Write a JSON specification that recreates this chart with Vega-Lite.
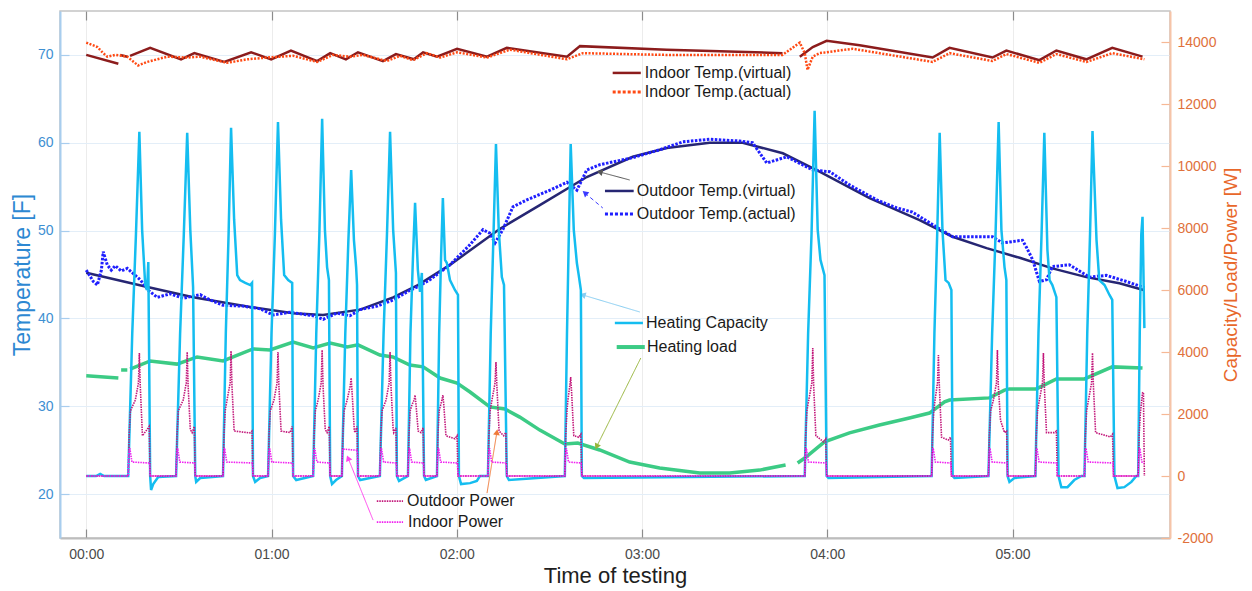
{
"$schema": "https://vega.github.io/schema/vega-lite/v6.json",
"width": 1110, "height": 527,
"autosize": {"type": "none"},
"padding": {"left": 60, "top": 11, "right": 82, "bottom": 53},
"background": "white",
"config": {
  "view": {"stroke": "#c4c4c4", "strokeWidth": 1.5}
},
"datasets": {
"ivirt": [{"seg":1,"t":0,"v":70.0},{"seg":1,"t":10.4,"v":69.0},
{"seg":2,"t":11.0,"v":70.0},{"seg":2,"t":13.3,"v":69.8},
{"seg":3,"t":14.2,"v":69.9},{"seg":3,"t":20.7,"v":70.8},{"seg":3,"t":30.7,"v":69.5},{"seg":3,"t":35.0,"v":70.2},{"seg":3,"t":44.7,"v":69.2},{"seg":3,"t":53.4,"v":70.3},{"seg":3,"t":59.9,"v":69.5},{"seg":3,"t":66.3,"v":70.5},{"seg":3,"t":74.8,"v":69.3},{"seg":3,"t":79.0,"v":70.2},{"seg":3,"t":84.1,"v":69.5},{"seg":3,"t":88.0,"v":70.3},{"seg":3,"t":96.1,"v":69.3},{"seg":3,"t":100.3,"v":70.1},{"seg":3,"t":106.1,"v":69.5},{"seg":3,"t":109.1,"v":70.3},{"seg":3,"t":113.6,"v":69.8},{"seg":3,"t":120.1,"v":70.7},{"seg":3,"t":129.8,"v":69.8},{"seg":3,"t":136.2,"v":70.8},{"seg":3,"t":155.7,"v":69.8},{"seg":3,"t":159.9,"v":71.0},{"seg":3,"t":188.0,"v":70.6},{"seg":3,"t":225.5,"v":70.2},
{"seg":4,"t":231.1,"v":69.8},{"seg":4,"t":235.3,"v":70.9},{"seg":4,"t":239.8,"v":71.6},{"seg":4,"t":250.5,"v":71.1},{"seg":4,"t":274.1,"v":69.7},{"seg":4,"t":279.6,"v":70.8},{"seg":4,"t":293.5,"v":69.7},{"seg":4,"t":298.0,"v":70.5},{"seg":4,"t":308.7,"v":69.4},{"seg":4,"t":314.2,"v":70.5},{"seg":4,"t":323.9,"v":69.5},{"seg":4,"t":332.3,"v":70.8},{"seg":4,"t":342.1,"v":69.8}],
"iact": [{"t":0,"v":71.4},{"t":3.6,"v":70.9},{"t":5.5,"v":70.2},{"t":6.8,"v":69.8},{"t":9.4,"v":70.0},{"t":13.3,"v":69.8},{"t":16.8,"v":68.8},{"t":19.7,"v":69.2},{"t":26.2,"v":69.8},{"t":32.7,"v":69.7},{"t":36.9,"v":69.8},{"t":45.6,"v":69.1},{"t":52.1,"v":69.5},{"t":58.6,"v":69.7},{"t":67.0,"v":69.9},{"t":74.8,"v":69.2},{"t":79.9,"v":70.0},{"t":85.4,"v":69.8},{"t":89.6,"v":70.0},{"t":97.4,"v":69.3},{"t":101.6,"v":69.9},{"t":105.8,"v":69.4},{"t":110.3,"v":70.2},{"t":114.6,"v":69.7},{"t":120.1,"v":70.3},{"t":129.8,"v":69.7},{"t":137.2,"v":70.6},{"t":155.7,"v":69.5},{"t":160.8,"v":70.2},{"t":188.0,"v":70.0},{"t":225.5,"v":70.0},{"t":231.1,"v":71.4},{"t":232.7,"v":70.2},{"t":233.6,"v":68.3},{"t":235.3,"v":69.8},{"t":237.5,"v":70.2},{"t":248.2,"v":70.7},{"t":274.1,"v":69.2},{"t":279.6,"v":70.2},{"t":293.5,"v":69.3},{"t":298.0,"v":70.1},{"t":308.7,"v":69.1},{"t":314.2,"v":70.1},{"t":323.9,"v":69.2},{"t":332.3,"v":70.2},{"t":342.7,"v":69.5}],
"ovirt": [{"t":0,"v":45.2},{"t":18.4,"v":43.7},{"t":34.6,"v":42.4},{"t":53.1,"v":41.3},{"t":67.0,"v":40.6},{"t":76.7,"v":40.4},{"t":88.7,"v":41.0},{"t":99.4,"v":42.4},{"t":107.4,"v":43.8},{"t":117.8,"v":46.1},{"t":134.0,"v":50.2},{"t":146.9,"v":52.9},{"t":162.1,"v":56.1},{"t":177.0,"v":58.4},{"t":188.0,"v":59.4},{"t":201.9,"v":60.0},{"t":212.6,"v":60.0},{"t":225.6,"v":58.8},{"t":237.5,"v":56.7},{"t":253.7,"v":53.7},{"t":269.9,"v":51.2},{"t":280.6,"v":49.3},{"t":291.6,"v":48.0},{"t":302.3,"v":46.9},{"t":312.9,"v":45.7},{"t":323.9,"v":44.7},{"t":334.6,"v":44.0},{"t":342.7,"v":43.2}],
"oact": [{"t":0,"v":45.5},{"t":2.3,"v":44.2},{"t":3.6,"v":43.8},{"t":4.9,"v":45.5},{"t":5.5,"v":47.6},{"t":6.8,"v":46.1},{"t":8.1,"v":45.5},{"t":9.4,"v":46.0},{"t":11.3,"v":45.4},{"t":13.3,"v":45.7},{"t":17.5,"v":44.4},{"t":20.1,"v":43.2},{"t":23.0,"v":42.4},{"t":27.2,"v":42.8},{"t":31.4,"v":42.3},{"t":36.9,"v":42.7},{"t":40.1,"v":42.1},{"t":44.3,"v":41.5},{"t":50.8,"v":41.4},{"t":56.3,"v":41.1},{"t":60.5,"v":40.4},{"t":66.0,"v":40.7},{"t":73.5,"v":40.3},{"t":76.7,"v":39.9},{"t":81.2,"v":40.6},{"t":85.4,"v":40.3},{"t":88.7,"v":41.0},{"t":94.2,"v":41.4},{"t":99.4,"v":42.1},{"t":104.8,"v":43.2},{"t":107.4,"v":43.6},{"t":111.3,"v":44.4},{"t":117.8,"v":46.1},{"t":124.3,"v":48.4},{"t":128.5,"v":50.1},{"t":130.7,"v":49.7},{"t":132.4,"v":48.6},{"t":134.9,"v":50.1},{"t":138.2,"v":52.7},{"t":142.7,"v":53.5},{"t":150.2,"v":54.6},{"t":155.7,"v":55.5},{"t":158.9,"v":54.6},{"t":162.1,"v":56.9},{"t":166.3,"v":57.5},{"t":177.0,"v":58.3},{"t":185.7,"v":59.2},{"t":193.2,"v":60.1},{"t":201.9,"v":60.4},{"t":211.6,"v":60.2},{"t":215.8,"v":60.0},{"t":220.4,"v":57.7},{"t":226.9,"v":58.4},{"t":235.3,"v":56.9},{"t":240.8,"v":56.7},{"t":247.2,"v":55.2},{"t":256.0,"v":53.5},{"t":262.4,"v":52.6},{"t":267.6,"v":52.1},{"t":275.4,"v":50.4},{"t":280.6,"v":49.3},{"t":288.3,"v":49.3},{"t":293.5,"v":49.3},{"t":296.7,"v":48.6},{"t":303.2,"v":48.9},{"t":304.5,"v":48.1},{"t":306.5,"v":46.7},{"t":308.7,"v":44.2},{"t":311.0,"v":44.4},{"t":312.9,"v":45.9},{"t":318.4,"v":46.1},{"t":324.9,"v":44.7},{"t":330.4,"v":44.9},{"t":336.9,"v":44.2},{"t":342.7,"v":43.5}],
"cap": [{"t":0,"v":0},{"t":3.2,"v":0},{"t":4.5,"v":65},{"t":5.8,"v":0},{"t":13.6,"v":0},
{"t":14.9,"v":4600},{"t":16.1,"v":7800},{"t":17.2,"v":11100},{"t":18.1,"v":7940},{"t":19.1,"v":6160},{"t":19.7,"v":6000},{"t":20.1,"v":6900},{"t":20.7,"v":0},{"t":21.0,"v":-450},{"t":21.7,"v":-260},{"t":23.3,"v":-30},{"t":29.1,"v":0},
{"t":30.4,"v":4600},{"t":31.6,"v":7800},{"t":32.7,"v":11070},{"t":33.7,"v":7940},{"t":34.6,"v":6100},{"t":35.3,"v":0},{"t":35.6,"v":-190},{"t":36.9,"v":-65},{"t":44.3,"v":0},
{"t":45.2,"v":4600},{"t":46.1,"v":7800},{"t":46.9,"v":11230},{"t":47.9,"v":8260},{"t":48.9,"v":6480},{"t":49.8,"v":6320},{"t":51.5,"v":6230},{"t":53.1,"v":6160},{"t":53.7,"v":6230},{"t":54.0,"v":0},{"t":54.7,"v":-190},{"t":56.3,"v":-65},{"t":58.9,"v":0},
{"t":60.0,"v":4600},{"t":61.1,"v":7800},{"t":62.1,"v":11420},{"t":63.1,"v":8260},{"t":64.1,"v":6480},{"t":65.4,"v":6320},{"t":66.7,"v":6230},{"t":67.0,"v":0},{"t":68.0,"v":-130},{"t":73.5,"v":0},
{"t":74.5,"v":4600},{"t":75.5,"v":7800},{"t":76.4,"v":11520},{"t":77.3,"v":7940},{"t":78.0,"v":6740},{"t":78.6,"v":6320},{"t":79.0,"v":0},{"t":79.6,"v":-260},{"t":80.9,"v":-130},{"t":82.8,"v":0},
{"t":83.9,"v":4600},{"t":84.9,"v":7600},{"t":85.8,"v":9870},{"t":86.7,"v":7610},{"t":87.4,"v":6740},{"t":87.7,"v":6160},{"t":88.0,"v":0},{"t":88.7,"v":-130},{"t":95.1,"v":0},
{"t":96.3,"v":4600},{"t":97.4,"v":7800},{"t":98.4,"v":11100},{"t":99.4,"v":7940},{"t":100.3,"v":6550},{"t":100.6,"v":0},{"t":101.3,"v":-160},{"t":104.2,"v":0},
{"t":105.0,"v":4600},{"t":105.8,"v":7000},{"t":106.5,"v":8810},{"t":107.4,"v":6650},{"t":108.1,"v":5940},{"t":108.7,"v":6550},{"t":109.4,"v":0},{"t":110.0,"v":-130},{"t":113.6,"v":0},
{"t":114.3,"v":4600},{"t":114.9,"v":7000},{"t":115.5,"v":8970},{"t":116.2,"v":6970},{"t":116.8,"v":6870},{"t":117.8,"v":6320},{"t":119.4,"v":6000},{"t":120.4,"v":5840},{"t":120.7,"v":0},{"t":121.4,"v":-260},{"t":124.3,"v":-230},{"t":126.5,"v":-160},{"t":127.5,"v":0},{"t":130.1,"v":0},
{"t":131.0,"v":4600},{"t":131.9,"v":7800},{"t":132.7,"v":10710},{"t":133.6,"v":7940},{"t":134.6,"v":6420},{"t":135.3,"v":6160},{"t":136.2,"v":0},{"t":136.9,"v":-130},{"t":155.0,"v":0},
{"t":155.7,"v":4600},{"t":156.3,"v":7800},{"t":156.9,"v":10710},{"t":157.9,"v":7940},{"t":158.9,"v":6870},{"t":159.5,"v":6480},{"t":160.2,"v":6000},{"t":160.5,"v":0},{"t":161.2,"v":-65},{"t":232.7,"v":0},
{"t":233.8,"v":4600},{"t":234.9,"v":7800},{"t":235.9,"v":11780},{"t":236.9,"v":7940},{"t":237.8,"v":6970},{"t":239.1,"v":6480},{"t":239.8,"v":0},{"t":240.4,"v":-65},{"t":273.8,"v":0},
{"t":274.7,"v":4600},{"t":275.6,"v":7800},{"t":276.4,"v":11070},{"t":277.3,"v":7940},{"t":278.3,"v":6320},{"t":279.3,"v":6230},{"t":280.2,"v":6000},{"t":280.6,"v":0},{"t":281.2,"v":-65},{"t":292.2,"v":0},
{"t":293.4,"v":4600},{"t":294.5,"v":7800},{"t":295.5,"v":11420},{"t":296.4,"v":7940},{"t":297.4,"v":6740},{"t":298.0,"v":6320},{"t":298.4,"v":0},{"t":299.0,"v":-190},{"t":300.6,"v":-65},{"t":307.4,"v":0},
{"t":308.4,"v":4600},{"t":309.4,"v":7800},{"t":310.3,"v":11070},{"t":311.3,"v":7290},{"t":312.0,"v":6320},{"t":312.9,"v":6160},{"t":314.2,"v":5770},{"t":314.9,"v":0},{"t":315.8,"v":-360},{"t":317.8,"v":-360},{"t":320.0,"v":-130},{"t":322.3,"v":0},{"t":323.3,"v":0},
{"t":324.2,"v":4600},{"t":325.1,"v":7800},{"t":325.9,"v":11130},{"t":327.2,"v":7610},{"t":328.1,"v":6320},{"t":329.8,"v":6160},{"t":331.4,"v":5840},{"t":332.3,"v":5680},{"t":333.0,"v":0},{"t":334.0,"v":-390},{"t":336.2,"v":-360},{"t":338.5,"v":-190},{"t":340.1,"v":0},{"t":340.7,"v":0},
{"t":341.2,"v":4600},{"t":341.7,"v":7800},{"t":342.1,"v":8360},{"t":342.7,"v":4770}],
"load": [{"seg":1,"t":0,"v":3230},{"seg":1,"t":10.4,"v":3160},
{"seg":2,"t":11.3,"v":3420},{"seg":2,"t":13.3,"v":3420},
{"seg":3,"t":14.2,"v":3450},{"seg":3,"t":20.7,"v":3710},{"seg":3,"t":29.4,"v":3610},{"seg":3,"t":35.9,"v":3840},{"seg":3,"t":44.3,"v":3710},{"seg":3,"t":54.0,"v":4100},{"seg":3,"t":59.5,"v":4065},{"seg":3,"t":67.0,"v":4320},{"seg":3,"t":73.5,"v":4130},{"seg":3,"t":79.0,"v":4290},{"seg":3,"t":84.5,"v":4160},{"seg":3,"t":88.0,"v":4230},{"seg":3,"t":95.1,"v":3900},{"seg":3,"t":99.3,"v":3840},{"seg":3,"t":104.8,"v":3580},{"seg":3,"t":109.1,"v":3520},{"seg":3,"t":114.6,"v":3160},{"seg":3,"t":120.1,"v":3000},{"seg":3,"t":124.3,"v":2710},{"seg":3,"t":130.7,"v":2230},{"seg":3,"t":135.6,"v":2160},{"seg":3,"t":140.4,"v":1900},{"seg":3,"t":146.9,"v":1480},{"seg":3,"t":155.0,"v":1030},{"seg":3,"t":159.2,"v":1065},{"seg":3,"t":166.3,"v":840},{"seg":3,"t":176.0,"v":450},{"seg":3,"t":185.7,"v":260},{"seg":3,"t":198.7,"v":100},{"seg":3,"t":208.4,"v":100},{"seg":3,"t":218.1,"v":190},{"seg":3,"t":226.5,"v":355},
{"seg":4,"t":230.4,"v":420},{"seg":4,"t":232.7,"v":580},{"seg":4,"t":239.1,"v":1100},{"seg":4,"t":247.2,"v":1390},{"seg":4,"t":256.9,"v":1645},{"seg":4,"t":266.6,"v":1870},{"seg":4,"t":273.1,"v":2030},{"seg":4,"t":278.0,"v":2390},{"seg":4,"t":279.6,"v":2450},{"seg":4,"t":292.5,"v":2520},{"seg":4,"t":297.4,"v":2770},{"seg":4,"t":299.0,"v":2810},{"seg":4,"t":307.7,"v":2810},{"seg":4,"t":314.2,"v":3130},{"seg":4,"t":323.3,"v":3130},{"seg":4,"t":332.3,"v":3520},{"seg":4,"t":342.1,"v":3480}],
"opow": [{"t":0,"v":0},{"t":13.6,"v":0},{"t":13.9,"v":1320},{"t":14.3,"v":2100},{"t":15.9,"v":2450},{"t":16.9,"v":3000},{"t":17.2,"v":3970},{"t":17.5,"v":2900},{"t":18.2,"v":1300},{"t":19.7,"v":1500},{"t":20.4,"v":1600},{"t":20.7,"v":0},
{"t":29.1,"v":0},{"t":29.4,"v":1320},{"t":29.8,"v":2100},{"t":31.4,"v":2450},{"t":32.4,"v":3000},{"t":32.7,"v":4000},{"t":33.0,"v":2900},{"t":33.7,"v":1500},{"t":34.3,"v":1400},{"t":35.0,"v":1600},{"t":35.3,"v":0},
{"t":44.3,"v":0},{"t":44.6,"v":1320},{"t":45.0,"v":2100},{"t":45.6,"v":2450},{"t":46.6,"v":3000},{"t":46.9,"v":4030},{"t":47.2,"v":2900},{"t":47.9,"v":1450},{"t":53.0,"v":1390},{"t":53.7,"v":1450},{"t":54.0,"v":0},
{"t":58.9,"v":0},{"t":59.2,"v":1320},{"t":59.6,"v":2100},{"t":60.8,"v":2450},{"t":61.8,"v":3000},{"t":62.1,"v":4000},{"t":62.4,"v":2900},{"t":63.1,"v":1450},{"t":66.0,"v":1400},{"t":66.7,"v":1600},{"t":67.0,"v":0},
{"t":73.5,"v":0},{"t":73.8,"v":1320},{"t":74.2,"v":2100},{"t":75.1,"v":2450},{"t":76.1,"v":3000},{"t":76.4,"v":4065},{"t":76.7,"v":2900},{"t":77.4,"v":1500},{"t":78.0,"v":1400},{"t":78.7,"v":1600},{"t":79.0,"v":0},
{"t":82.8,"v":0},{"t":83.1,"v":1320},{"t":83.5,"v":2100},{"t":84.5,"v":2450},{"t":85.5,"v":2900},{"t":85.8,"v":3160},{"t":86.1,"v":2700},{"t":86.8,"v":1500},{"t":87.0,"v":1400},{"t":87.7,"v":1600},{"t":88.0,"v":0},
{"t":95.1,"v":0},{"t":95.4,"v":1320},{"t":95.8,"v":2100},{"t":97.1,"v":2450},{"t":98.1,"v":3000},{"t":98.4,"v":4000},{"t":98.7,"v":2900},{"t":99.4,"v":1500},{"t":99.6,"v":1400},{"t":100.3,"v":1550},{"t":100.6,"v":0},
{"t":104.2,"v":0},{"t":104.5,"v":1320},{"t":104.9,"v":2100},{"t":105.5,"v":2300},{"t":106.2,"v":2450},{"t":106.5,"v":2610},{"t":106.8,"v":2300},{"t":107.5,"v":1450},{"t":108.4,"v":1400},{"t":109.1,"v":1550},{"t":109.4,"v":0},
{"t":113.6,"v":0},{"t":113.9,"v":1320},{"t":114.3,"v":2100},{"t":114.8,"v":2300},{"t":115.2,"v":2450},{"t":115.5,"v":2610},{"t":115.8,"v":2300},{"t":116.5,"v":1300},{"t":119.4,"v":1200},{"t":120.1,"v":1300},{"t":120.4,"v":0},
{"t":130.1,"v":0},{"t":130.4,"v":1320},{"t":130.8,"v":2100},{"t":131.4,"v":2450},{"t":132.4,"v":3000},{"t":132.7,"v":3680},{"t":133.0,"v":2900},{"t":133.7,"v":1450},{"t":135.2,"v":1300},{"t":135.9,"v":1400},{"t":136.2,"v":0},
{"t":155.0,"v":0},{"t":155.3,"v":1320},{"t":155.7,"v":2100},{"t":156.0,"v":2450},{"t":156.6,"v":2900},{"t":156.9,"v":3190},{"t":157.2,"v":2700},{"t":157.9,"v":1300},{"t":159.5,"v":1250},{"t":160.2,"v":1350},{"t":160.5,"v":0},
{"t":232.7,"v":0},{"t":233.0,"v":1320},{"t":233.4,"v":2100},{"t":234.0,"v":2450},{"t":235.0,"v":3000},{"t":235.3,"v":4130},{"t":235.6,"v":2900},{"t":236.3,"v":1300},{"t":238.8,"v":1100},{"t":239.5,"v":1200},{"t":239.8,"v":0},
{"t":273.8,"v":0},{"t":274.1,"v":1320},{"t":274.5,"v":2100},{"t":274.9,"v":2450},{"t":275.7,"v":3000},{"t":276.0,"v":3900},{"t":276.3,"v":2900},{"t":277.0,"v":1250},{"t":279.2,"v":1160},{"t":279.9,"v":1250},{"t":280.2,"v":0},
{"t":292.2,"v":0},{"t":292.5,"v":1320},{"t":292.9,"v":2100},{"t":293.8,"v":2450},{"t":294.8,"v":3000},{"t":295.1,"v":4065},{"t":295.4,"v":2900},{"t":296.1,"v":1800},{"t":297.4,"v":1400},{"t":298.1,"v":1450},{"t":298.4,"v":0},
{"t":307.4,"v":0},{"t":307.7,"v":1320},{"t":308.1,"v":2100},{"t":308.7,"v":2450},{"t":309.7,"v":3000},{"t":310.0,"v":3970},{"t":310.3,"v":2900},{"t":311.0,"v":1400},{"t":313.5,"v":1400},{"t":314.2,"v":1450},{"t":314.5,"v":0},
{"t":323.3,"v":0},{"t":323.6,"v":1320},{"t":324.0,"v":2100},{"t":324.6,"v":2450},{"t":325.6,"v":3000},{"t":325.9,"v":3970},{"t":326.2,"v":2900},{"t":326.9,"v":1400},{"t":331.7,"v":1260},{"t":332.4,"v":1350},{"t":332.7,"v":0},
{"t":340.7,"v":0},{"t":341.0,"v":1320},{"t":341.4,"v":2030},{"t":342.1,"v":2680},{"t":342.4,"v":2700},{"t":342.7,"v":0}],
"ipow": [{"t":0,"v":0},{"t":13.6,"v":0},{"t":13.8,"v":700},{"t":14.1,"v":900},{"t":14.8,"v":450},{"t":20.5,"v":420},{"t":20.7,"v":0},
{"t":29.1,"v":0},{"t":29.3,"v":700},{"t":29.6,"v":900},{"t":30.3,"v":450},{"t":35.1,"v":420},{"t":35.3,"v":0},
{"t":44.3,"v":0},{"t":44.5,"v":700},{"t":44.8,"v":900},{"t":45.5,"v":450},{"t":53.8,"v":420},{"t":54.0,"v":0},
{"t":58.9,"v":0},{"t":59.1,"v":700},{"t":59.4,"v":900},{"t":60.1,"v":450},{"t":66.8,"v":420},{"t":67.0,"v":0},
{"t":73.5,"v":0},{"t":73.7,"v":700},{"t":74.0,"v":900},{"t":74.7,"v":450},{"t":78.8,"v":420},{"t":79.0,"v":0},
{"t":82.8,"v":0},{"t":83.0,"v":870},{"t":87.8,"v":830},{"t":88.0,"v":0},
{"t":95.1,"v":0},{"t":95.3,"v":700},{"t":95.6,"v":900},{"t":96.3,"v":450},{"t":100.4,"v":420},{"t":100.6,"v":0},
{"t":104.2,"v":0},{"t":104.4,"v":700},{"t":104.7,"v":900},{"t":105.4,"v":450},{"t":109.2,"v":420},{"t":109.4,"v":0},
{"t":113.6,"v":0},{"t":113.8,"v":700},{"t":114.1,"v":900},{"t":114.8,"v":450},{"t":120.2,"v":420},{"t":120.4,"v":0},
{"t":130.1,"v":0},{"t":130.3,"v":700},{"t":130.6,"v":900},{"t":131.3,"v":450},{"t":136.0,"v":420},{"t":136.2,"v":0},
{"t":155.0,"v":0},{"t":155.2,"v":700},{"t":155.5,"v":900},{"t":156.2,"v":450},{"t":160.3,"v":420},{"t":160.5,"v":0},
{"t":232.7,"v":0},{"t":232.9,"v":700},{"t":233.2,"v":900},{"t":233.9,"v":450},{"t":239.6,"v":420},{"t":239.8,"v":0},
{"t":273.8,"v":0},{"t":274.0,"v":700},{"t":274.3,"v":900},{"t":275.0,"v":450},{"t":280.0,"v":420},{"t":280.2,"v":0},
{"t":292.2,"v":0},{"t":292.4,"v":700},{"t":292.7,"v":900},{"t":293.4,"v":450},{"t":298.2,"v":420},{"t":298.4,"v":0},
{"t":307.4,"v":0},{"t":307.6,"v":700},{"t":307.9,"v":900},{"t":308.6,"v":450},{"t":314.3,"v":420},{"t":314.5,"v":0},
{"t":323.3,"v":0},{"t":323.5,"v":700},{"t":323.8,"v":900},{"t":324.5,"v":450},{"t":332.5,"v":420},{"t":332.7,"v":0},
{"t":340.7,"v":0},{"t":340.9,"v":700},{"t":341.2,"v":900},{"t":341.9,"v":450},{"t":342.7,"v":420}],
"samples": [{"k":"ivirt","t":170.5,"v":67.95},{"k":"ivirt","t":179.6,"v":67.95},
{"k":"iact","t":170.5,"v":65.79},{"k":"iact","t":179.6,"v":65.79},
{"k":"ovirt","t":168.0,"v":54.51},{"k":"ovirt","t":177.3,"v":54.51},
{"k":"oact","t":168.0,"v":51.89},{"k":"oact","t":177.3,"v":51.89},
{"k":"cap","t":171.2,"v":39.48},{"k":"cap","t":180.3,"v":39.48},
{"k":"load","t":171.8,"v":36.74},{"k":"load","t":180.9,"v":36.74},
{"k":"opow","t":94.1,"v":19.2},{"k":"opow","t":102.6,"v":19.2},
{"k":"ipow","t":94.1,"v":16.81},{"k":"ipow","t":102.6,"v":16.81}],
"labels": [{"label":"Indoor Temp.(virtual)","t":180.9,"v":67.95},
{"label":"Indoor Temp.(actual)","t":180.9,"v":65.79},
{"label":"Outdoor Temp.(virtual)","t":178.3,"v":54.51},
{"label":"Outdoor Temp.(actual)","t":178.3,"v":51.89},
{"label":"Heating Capacity","t":181.3,"v":39.48},
{"label":"Heating load","t":181.6,"v":36.74},
{"label":"Outdoor Power","t":103.9,"v":19.2},
{"label":"Indoor Power","t":104.2,"v":16.81}],
"arrows": [{"a":"a1","tip":"tail","t":176.0,"v":55.76},{"a":"a1","tip":"head","t":166.3,"v":56.67},
{"a":"a2","tip":"tail","t":167.3,"v":52.57},{"a":"a2","tip":"head","t":161.5,"v":54.28},
{"a":"a3","tip":"tail","t":179.3,"v":40.73},{"a":"a3","tip":"head","t":160.8,"v":42.67},
{"a":"a4","tip":"tail","t":179.6,"v":35.49},{"a":"a4","tip":"head","t":165.3,"v":25.4},
{"a":"a5","tip":"tail","t":129.8,"v":20.11},{"a":"a5","tip":"head","t":133.0,"v":27.06},
{"a":"a6","tip":"tail","t":92.9,"v":17.04},{"a":"a6","tip":"head","t":84.8,"v":24.1}]
},
"encoding": {
  "x": {"field": "t", "type": "quantitative", "scale": {"domain": [-8.5, 351], "nice": false, "zero": false}, "axis": null}
},
"layer": [
 {"data": {"name": "ivirt"}, "mark": {"type": "line", "color": "#8c1c1c", "strokeWidth": 2.5},
  "encoding": {
   "x": {"field": "t", "type": "quantitative", "scale": {"domain": [-8.5, 351], "nice": false, "zero": false},
     "axis": {"values": [0, 60, 120, 180, 240, 300], "labelExpr": "'0' + floor(datum.value/60) + ':00'", "title": "Time of testing", "titleFontSize": 22, "titleFontWeight": "normal", "titleFont": "Liberation Sans", "labelFont": "Liberation Sans", "titleColor": "#1e1e1e", "labelColor": "#4a4a4a", "labelFontSize": 14, "domainColor": "#bdbdbd", "domainWidth": 2, "ticks": true, "tickSize": -9, "tickColor": "#8c8c8c", "tickWidth": 1.2, "labelPadding": 18, "titlePadding": 4, "grid": true, "gridColor": "#ececec"}},
   "y": {"field": "v", "type": "quantitative", "scale": {"domain": [15, 75], "nice": false, "zero": false},
     "axis": {"values": [20, 30, 40, 50, 60, 70], "title": "Temperature [F]", "titleFontSize": 23, "titleFontWeight": "normal", "titleFont": "Liberation Sans", "labelFont": "Liberation Sans", "titleColor": "#2d88d2", "labelColor": "#3e8fd2", "labelFontSize": 14, "domainColor": "#a8cdee", "domainWidth": 2, "ticks": true, "tickSize": -9, "tickColor": "#a8cdee", "tickWidth": 1.2, "labelPadding": 16, "titlePadding": 3, "grid": true, "gridColor": "#e3eef8"}},
   "detail": {"field": "seg"}}},
 {"data": {"name": "load"}, "mark": {"type": "line", "color": "#3ccb85", "strokeWidth": 3.5},
  "encoding": {
   "y": {"field": "v", "type": "quantitative", "scale": {"domain": [-2000, 15000], "nice": false, "zero": false},
     "axis": {"orient": "right", "values": [-2000, 0, 2000, 4000, 6000, 8000, 10000, 12000, 14000], "labelExpr": "'' + datum.value", "title": "Capacity/Load/Power [W]", "titleAngle": 270, "titleFontSize": 19, "titleFontWeight": "normal", "titleFont": "Liberation Sans", "labelFont": "Liberation Sans", "titleColor": "#e8672a", "labelColor": "#e0713b", "labelFontSize": 14, "domainColor": "#f6c4a8", "domainWidth": 2, "ticks": true, "tickSize": -9, "tickColor": "#f6b895", "tickWidth": 1.2, "labelPadding": 16, "titlePadding": 25, "grid": false}},
   "detail": {"field": "seg"}}},
 {"data": {"name": "iact"}, "mark": {"type": "line", "color": "#ff4a14", "strokeWidth": 2.5, "strokeDash": [2, 1.5]},
  "encoding": {"y": {"field": "v", "type": "quantitative", "scale": {"domain": [15, 75], "nice": false, "zero": false}, "axis": null}}},
 {"data": {"name": "ovirt"}, "mark": {"type": "line", "color": "#262673", "strokeWidth": 2.5},
  "encoding": {"y": {"field": "v", "type": "quantitative", "scale": {"domain": [15, 75], "nice": false, "zero": false}, "axis": null}}},
 {"data": {"name": "oact"}, "mark": {"type": "line", "color": "#1f1fff", "strokeWidth": 3, "strokeDash": [2.5, 1.5]},
  "encoding": {"y": {"field": "v", "type": "quantitative", "scale": {"domain": [15, 75], "nice": false, "zero": false}, "axis": null}}},
 {"data": {"name": "samples"}, "transform": [{"filter": "datum.k == 'ivirt'"}], "mark": {"type": "line", "color": "#8c1c1c", "strokeWidth": 2.5},
  "encoding": {"y": {"field": "v", "type": "quantitative", "scale": {"domain": [15, 75], "nice": false, "zero": false}, "axis": null}}},
 {"data": {"name": "samples"}, "transform": [{"filter": "datum.k == 'iact'"}], "mark": {"type": "line", "color": "#ff4a14", "strokeWidth": 3, "strokeDash": [3, 2]},
  "encoding": {"y": {"field": "v", "type": "quantitative", "scale": {"domain": [15, 75], "nice": false, "zero": false}, "axis": null}}},
 {"data": {"name": "samples"}, "transform": [{"filter": "datum.k == 'ovirt'"}], "mark": {"type": "line", "color": "#262673", "strokeWidth": 2.5},
  "encoding": {"y": {"field": "v", "type": "quantitative", "scale": {"domain": [15, 75], "nice": false, "zero": false}, "axis": null}}},
 {"data": {"name": "samples"}, "transform": [{"filter": "datum.k == 'oact'"}], "mark": {"type": "line", "color": "#1f1fff", "strokeWidth": 3, "strokeDash": [3, 2]},
  "encoding": {"y": {"field": "v", "type": "quantitative", "scale": {"domain": [15, 75], "nice": false, "zero": false}, "axis": null}}},
 {"data": {"name": "samples"}, "transform": [{"filter": "datum.k == 'cap'"}], "mark": {"type": "line", "color": "#14bdf0", "strokeWidth": 2.5},
  "encoding": {"y": {"field": "v", "type": "quantitative", "scale": {"domain": [15, 75], "nice": false, "zero": false}, "axis": null}}},
 {"data": {"name": "samples"}, "transform": [{"filter": "datum.k == 'load'"}], "mark": {"type": "line", "color": "#3ccb85", "strokeWidth": 4},
  "encoding": {"y": {"field": "v", "type": "quantitative", "scale": {"domain": [15, 75], "nice": false, "zero": false}, "axis": null}}},
 {"data": {"name": "samples"}, "transform": [{"filter": "datum.k == 'opow'"}], "mark": {"type": "line", "color": "#c2177a", "strokeWidth": 1.8, "strokeDash": [1.5, 1]},
  "encoding": {"y": {"field": "v", "type": "quantitative", "scale": {"domain": [15, 75], "nice": false, "zero": false}, "axis": null}}},
 {"data": {"name": "samples"}, "transform": [{"filter": "datum.k == 'ipow'"}], "mark": {"type": "line", "color": "#f01ef0", "strokeWidth": 1.8, "strokeDash": [1.5, 1]},
  "encoding": {"y": {"field": "v", "type": "quantitative", "scale": {"domain": [15, 75], "nice": false, "zero": false}, "axis": null}}},
 {"data": {"name": "arrows"}, "mark": {"type": "line", "strokeWidth": 1},
  "encoding": {
   "y": {"field": "v", "type": "quantitative", "scale": {"domain": [15, 75], "nice": false, "zero": false}, "axis": null},
   "detail": {"field": "a"},
   "stroke": {"field": "a", "type": "nominal", "scale": {"domain": ["a1","a2","a3","a4","a5","a6"], "range": ["#555555","#3a3aff","#86cdf2","#97b53a","#f07a3a","#ff44ee"]}, "legend": null},
   "strokeDash": {"field": "a", "type": "nominal", "scale": {"domain": ["a1","a2","a3","a4","a5","a6"], "range": [[1,0],[4,3],[1,0],[1,0],[1,0],[1,0]]}, "legend": null}}},
 {"data": {"name": "arrows"}, "transform": [{"filter": "datum.a == 'a1' && datum.tip == 'head'"}], "mark": {"type": "point", "shape": "triangle-up", "angle": 285, "filled": true, "size": 45, "color": "#555555", "opacity": 1},
  "encoding": {"y": {"field": "v", "type": "quantitative", "scale": {"domain": [15, 75], "nice": false, "zero": false}, "axis": null}}},
 {"data": {"name": "arrows"}, "transform": [{"filter": "datum.a == 'a2' && datum.tip == 'head'"}], "mark": {"type": "point", "shape": "triangle-up", "angle": 310, "filled": true, "size": 45, "color": "#3a3aff", "opacity": 1},
  "encoding": {"y": {"field": "v", "type": "quantitative", "scale": {"domain": [15, 75], "nice": false, "zero": false}, "axis": null}}},
 {"data": {"name": "arrows"}, "transform": [{"filter": "datum.a == 'a3' && datum.tip == 'head'"}], "mark": {"type": "point", "shape": "triangle-up", "angle": 287, "filled": true, "size": 45, "color": "#86cdf2", "opacity": 1},
  "encoding": {"y": {"field": "v", "type": "quantitative", "scale": {"domain": [15, 75], "nice": false, "zero": false}, "axis": null}}},
 {"data": {"name": "arrows"}, "transform": [{"filter": "datum.a == 'a4' && datum.tip == 'head'"}], "mark": {"type": "point", "shape": "triangle-up", "angle": 206, "filled": true, "size": 45, "color": "#97b53a", "opacity": 1},
  "encoding": {"y": {"field": "v", "type": "quantitative", "scale": {"domain": [15, 75], "nice": false, "zero": false}, "axis": null}}},
 {"data": {"name": "arrows"}, "transform": [{"filter": "datum.a == 'a5' && datum.tip == 'head'"}], "mark": {"type": "point", "shape": "triangle-up", "angle": 9, "filled": true, "size": 45, "color": "#f07a3a", "opacity": 1},
  "encoding": {"y": {"field": "v", "type": "quantitative", "scale": {"domain": [15, 75], "nice": false, "zero": false}, "axis": null}}},
 {"data": {"name": "arrows"}, "transform": [{"filter": "datum.a == 'a6' && datum.tip == 'head'"}], "mark": {"type": "point", "shape": "triangle-up", "angle": 338, "filled": true, "size": 45, "color": "#ff44ee", "opacity": 1},
  "encoding": {"y": {"field": "v", "type": "quantitative", "scale": {"domain": [15, 75], "nice": false, "zero": false}, "axis": null}}},
 {"data": {"name": "labels"}, "mark": {"type": "text", "align": "left", "baseline": "middle", "fontSize": 16, "font": "Liberation Sans", "color": "#1a1a1a"},
  "encoding": {
   "x": {"field": "t", "type": "quantitative", "scale": {"domain": [-8.5, 351], "nice": false, "zero": false},
     "axis": {"orient": "top", "values": [0, 60, 120, 180, 240, 300], "labels": false, "title": null, "domain": false, "grid": false, "ticks": true, "tickSize": -9, "tickColor": "#8c8c8c", "tickWidth": 1.2}},
   "y": {"field": "v", "type": "quantitative", "scale": {"domain": [15, 75], "nice": false, "zero": false}, "axis": null},
   "text": {"field": "label"}}},
 {"data": {"name": "cap"}, "mark": {"type": "line", "color": "#14bdf0", "strokeWidth": 2.5},
  "encoding": {"y": {"field": "v", "type": "quantitative", "scale": {"domain": [-2000, 15000], "nice": false, "zero": false}, "axis": null}}},
 {"data": {"name": "opow"}, "mark": {"type": "line", "color": "#c2177a", "strokeWidth": 1.6, "strokeDash": [1.5, 1]},
  "encoding": {"y": {"field": "v", "type": "quantitative", "scale": {"domain": [-2000, 15000], "nice": false, "zero": false}, "axis": null}}},
 {"data": {"name": "ipow"}, "mark": {"type": "line", "color": "#f01ef0", "strokeWidth": 1.6, "strokeDash": [1.5, 1]},
  "encoding": {"y": {"field": "v", "type": "quantitative", "scale": {"domain": [-2000, 15000], "nice": false, "zero": false}, "axis": null}}}
],
"resolve": {"scale": {"y": "independent"}, "axis": {"x": "independent"}}
}
